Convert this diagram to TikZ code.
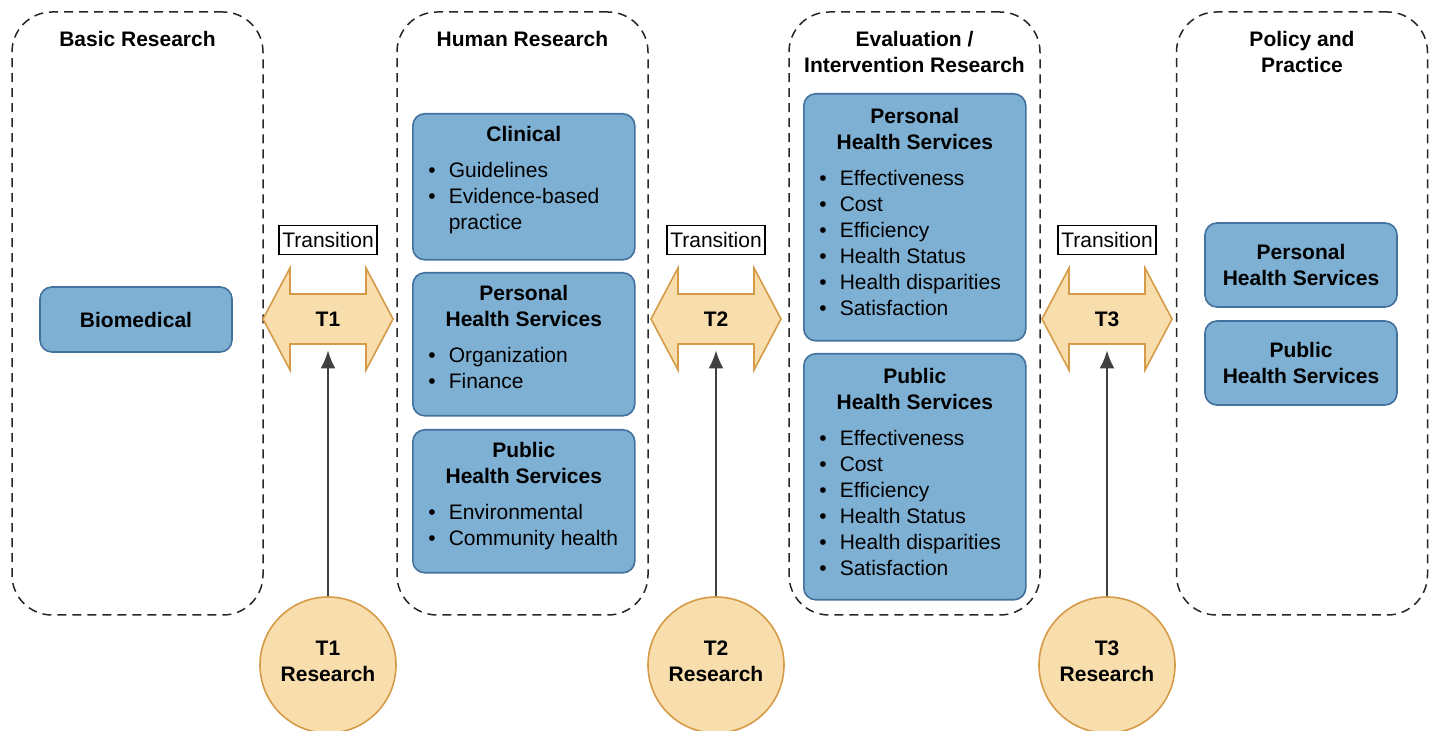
\documentclass[tikz,border=0pt]{standalone}
\usepackage{fontspec}
\setmainfont{Liberation Sans}
\usetikzlibrary{positioning,arrows.meta,calc}

\definecolor{svcfill}{RGB}{126,176,212}
\definecolor{svcline}{RGB}{65,113,156}
\definecolor{tfill}{RGB}{249,222,173}
\definecolor{tline}{RGB}{214,155,72}
\definecolor{arrgray}{RGB}{64,64,64}

\newcommand{\basefont}{\fontsize{10.5}{13}\selectfont}
\newcommand{\itm}{\par\noindent\llap{\textbullet\hspace{6.5pt}}}
\newcommand{\svcbox}[4][7pt]{\parbox[t][#2][t]{111pt}{\vspace*{#1}\centering\textbf{#3}\par\vspace{5pt}\raggedright\leftskip=18pt #4}}

\begin{document}
\begin{tikzpicture}[
  x=0.5pt, y=-0.5pt, font=\basefont,
  grp/.style={draw=black!85, dash pattern=on 4.5pt off 3pt, line width=0.75pt, rounded corners=20pt, minimum width=125.5pt, minimum height=301.5pt, inner sep=0pt},
  grptitle/.style={font=\basefont\bfseries, align=center, inner sep=0pt},
  svc/.style={draw=svcline, fill=svcfill, line width=0.8pt, rounded corners=6pt, inner sep=0pt, anchor=north west},
  plainsvc/.style={draw=svcline, fill=svcfill, line width=0.8pt, rounded corners=6pt, minimum width=96pt, align=center, font=\basefont\bfseries},
  trbox/.style={draw, line width=0.6pt, fill=white, minimum width=49pt, minimum height=14.5pt, inner sep=1pt},
  dbl/.style={draw=tline, fill=tfill, line width=0.8pt},
  res/.style={circle, draw=tline, fill=tfill, line width=0.8pt, minimum size=68pt, inner sep=0pt, align=center, font=\basefont\bfseries},
  arr/.style={-{Latex[length=9pt,width=7.5pt]}, draw=arrgray, line width=1.1pt}
]
\useasboundingbox (0,0) rectangle (1436,731);

% stages
\node[grp] (basic) at (137.5,313.5) {};
\node[grp] (human) at (522.5,313.5) {};
\node[grp] (evalres) at (914.5,313.5) {};
\node[grp] (policy) at (1302,313.5) {};

\node[grptitle, below=10pt of basic.north] {Basic Research};
\node[grptitle, below=10pt of human.north] {Human Research};
\node[grptitle, below=10pt of evalres.north] {Evaluation /\\Intervention Research};
\node[grptitle, below=10pt of policy.north] {Policy and\\Practice};

% basic research
\node[plainsvc, minimum height=32.5pt] (biomed) at (136,319.5) {Biomedical};

% human research
\node[svc] (clin) at (412,113) {\svcbox[6pt]{73pt}{Clinical}{\itm Guidelines \itm Evidence-based\\practice}};
\node[svc] (hpers) at (412,272) {\svcbox[6pt]{71.5pt}{Personal\\Health Services}{\itm Organization \itm Finance}};
\node[svc] (hpub) at (412,429) {\svcbox[6pt]{71.5pt}{Public\\Health Services}{\itm Environmental \itm Community health}};

% evaluation / intervention research
\node[svc] (epers) at (803,93) {\svcbox{123.5pt}{Personal\\Health Services}{\itm Effectiveness \itm Cost \itm Efficiency \itm Health Status \itm Health disparities \itm Satisfaction}};
\node[svc] (epub) at (803,353) {\svcbox{123pt}{Public\\Health Services}{\itm Effectiveness \itm Cost \itm Efficiency \itm Health Status \itm Health disparities \itm Satisfaction}};

% policy and practice
\node[plainsvc, minimum height=42pt] (ppers) at (1301,265) {Personal\\Health Services};
\node[plainsvc, minimum height=42pt] (ppub) at (1301,363) {Public\\Health Services};

% transitions
\foreach \x/\n in {328/1, 716/2, 1107/3}{
  \draw[dbl, shift={(\x,319)}] (-65,0) -- (-38,-51) -- (-38,-25) -- (38,-25) -- (38,-51) -- (65,0)
    -- (38,51) -- (38,25) -- (-38,25) -- (-38,51) -- cycle;
  \node[font=\basefont\bfseries, minimum height=31pt, inner sep=0pt] (tr\n) at (\x,319) {T\n};
  \node[trbox] (tbox\n) at (\x,240) {Transition};
  \node[res] (res\n) at (\x,665) {T\n\\Research\rule[-4pt]{0pt}{0pt}};
  \draw[arr] (res\n) -- (tr\n.south);
}

\end{tikzpicture}
\end{document}
